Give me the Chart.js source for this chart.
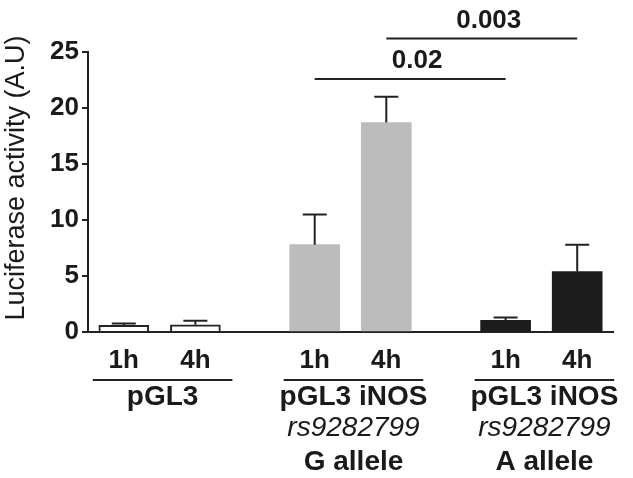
<!DOCTYPE html>
<html>
<head>
<meta charset="utf-8">
<script src="https://cdn.jsdelivr.net/npm/chart.js@4.4.1/dist/chart.umd.min.js"></script>
<style>
  html, body { margin: 0; padding: 0; background: #fff; }
  #wrap { width: 633px; height: 478px; }
</style>
</head>
<body>
<div id="wrap"><canvas id="luciferaseChart"></canvas></div>
<script>
// Dados
const tempos = ['1h', '4h'];
const grupos = [
    ['pGL3'],
    ['pGL3 iNOS', 'rs9282799', 'G allele'],
    ['pGL3 iNOS', 'rs9282799', 'A allele']
];
const atividade = [0.6, 0.65, 7.8, 18.7, 1.05, 5.4];
const erroPadrao = [0.15, 0.35, 2.7, 2.3, 0.25, 2.4];
const yTicks = [0, 5, 10, 15, 20, 25];
const tituloY = 'Luciferase activity (A.U)';
const pValores = ['0.02', '0.003'];
const pPares = [[2, 4], [3, 5]];
const pAltura = [22.6, 26.2];

const fonte = "'Liberation Sans', Arial, sans-serif";
const corTexto = '#1a1a1a';
const coresBarra = ['#ffffff', '#ffffff', '#bcbcbc', '#bcbcbc', '#1c1c1c', '#1c1c1c'];
const bordaBarra = [2, 2, 0, 0, 0, 0];

// Cada barra ocupa uma "fatia" do eixo categórico, com fatias vazias entre os grupos
const totalSlots = 22;
const slotDaBarra = atividade.map((v, i) => Math.floor(i / 2) * 8 + (i % 2) * 3 + 1);

const labels = new Array(totalSlots).fill('');
const dadosSlot = new Array(totalSlots).fill(null);
const corSlot = new Array(totalSlots).fill('#fff');
const bordaSlot = new Array(totalSlots).fill(0);
slotDaBarra.forEach((s, i) => {
    labels[s] = tempos[i % 2];
    dadosSlot[s] = atividade[i];
    corSlot[s] = coresBarra[i];
    bordaSlot[s] = bordaBarra[i];
});

Chart.defaults.font.family = fonte;
Chart.defaults.color = corTexto;

// Barras de erro (só para cima)
const erroPlugin = {
    id: 'erroPlugin',
    afterDatasetsDraw(chart) {
        const ctx = chart.ctx;
        const meta = chart.getDatasetMeta(0);
        const y = chart.scales.y;
        ctx.save();
        ctx.strokeStyle = '#222';
        ctx.lineWidth = 2;
        slotDaBarra.forEach((s, i) => {
            const el = meta.data[s];
            const topo = y.getPixelForValue(atividade[i] + erroPadrao[i]);
            ctx.beginPath();
            ctx.moveTo(el.x, y.getPixelForValue(atividade[i]));
            ctx.lineTo(el.x, topo);
            ctx.moveTo(el.x - 12, topo);
            ctx.lineTo(el.x + 12, topo);
            ctx.stroke();
        });
        ctx.restore();
    }
};

// Rótulos dos grupos, título do eixo y e linhas de significância
const anotacoesPlugin = {
    id: 'anotacoesPlugin',
    afterDraw(chart) {
        const ctx = chart.ctx;
        const x = chart.scales.x;
        const y = chart.scales.y;
        const area = chart.chartArea;
        const base = area.bottom;
        ctx.save();
        ctx.strokeStyle = '#222';
        ctx.lineWidth = 2;
        ctx.fillStyle = corTexto;
        ctx.textAlign = 'center';
        ctx.textBaseline = 'middle';

        // título do eixo y, um pouco acima do centro como no original
        ctx.save();
        ctx.translate(17, (area.top + area.bottom) / 2 - 14);
        ctx.rotate(-Math.PI / 2);
        ctx.font = '27px ' + fonte;
        ctx.fillText(tituloY, 0, 0);
        ctx.restore();

        grupos.forEach((linhas, g) => {
            const x1 = x.getPixelForValue(slotDaBarra[g * 2]) - 31;
            const x2 = x.getPixelForValue(slotDaBarra[g * 2 + 1]) + 37;
            ctx.beginPath();
            ctx.moveTo(x1, base + 48);
            ctx.lineTo(x2, base + 48);
            ctx.stroke();
            const cx = (x1 + x2) / 2;
            const linhaY = [65, 96, 130];
            linhas.forEach((t, k) => {
                ctx.font = (t.startsWith('rs') ? 'italic 400 ' : 'bold ') + '28px ' + fonte;
                ctx.fillText(t, cx, base + linhaY[k]);
            });
        });

        pValores.forEach((p, k) => {
            const xa = x.getPixelForValue(slotDaBarra[pPares[k][0]]);
            const xb = x.getPixelForValue(slotDaBarra[pPares[k][1]]);
            const yy = y.getPixelForValue(pAltura[k]);
            ctx.beginPath();
            ctx.moveTo(xa, yy);
            ctx.lineTo(xb, yy);
            ctx.stroke();
            ctx.font = 'bold 26px ' + fonte;
            ctx.fillText(p, (xa + xb) / 2 + 7, yy - 18);
        });
        ctx.restore();
    }
};

new Chart(document.getElementById('luciferaseChart'), {
    type: 'bar',
    data: {
        labels: labels,
        datasets: [{
            data: dadosSlot,
            backgroundColor: corSlot,
            borderColor: '#222',
            borderWidth: bordaSlot,
            barThickness: 50
        }]
    },
    options: {
        responsive: true,
        maintainAspectRatio: false,
        animation: false,
        layout: { padding: { top: 52, right: 20, left: 0, bottom: 0 } },
        plugins: {
            legend: { display: false },
            tooltip: { enabled: false }
        },
        scales: {
            x: {
                grid: { display: false },
                border: { display: true, color: '#222', width: 2 },
                ticks: {
                    autoSkip: false,
                    maxRotation: 0,
                    padding: 5,
                    font: { size: 26, weight: 'bold' }
                },
                afterFit(scale) { scale.height = 146; }
            },
            y: {
                min: 0,
                max: 25,
                afterBuildTicks(scale) { scale.ticks = yTicks.map(v => ({ value: v })); },
                grid: { display: true, drawOnChartArea: false, drawTicks: true, tickLength: 6, color: '#222', lineWidth: 2 },
                border: { display: true, color: '#222', width: 2 },
                ticks: {
                    padding: 3,
                    font: { size: 26, weight: 'bold' }
                },
                afterFit(scale) { scale.width = 88; }
            }
        }
    },
    plugins: [erroPlugin, anotacoesPlugin]
});
</script>
</body>
</html>
